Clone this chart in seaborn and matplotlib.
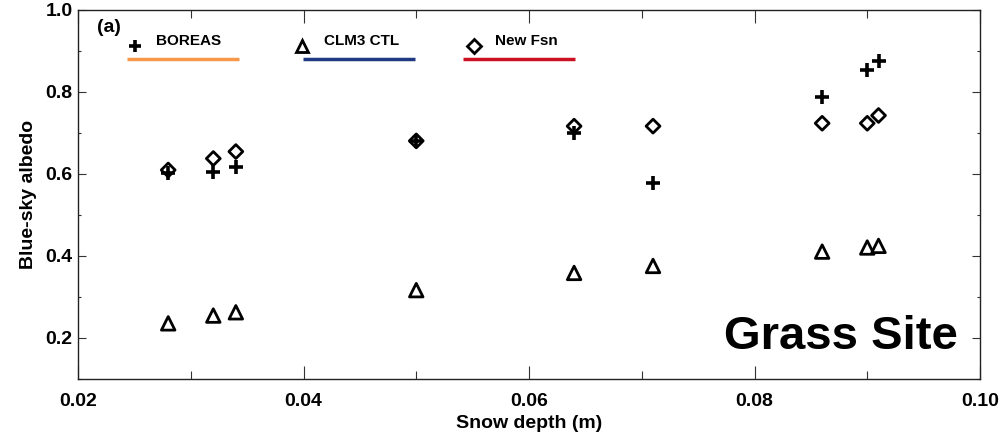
import matplotlib
matplotlib.use("Agg")
import matplotlib.pyplot as plt
import seaborn as sns
import pandas as pd
from matplotlib.ticker import MultipleLocator

# ---- data ----
snow_depth = [0.028, 0.032, 0.034, 0.050, 0.064, 0.071, 0.086, 0.090, 0.091]
boreas = [0.601, 0.605, 0.616, 0.680, 0.699, 0.578, 0.788, 0.853, 0.875]
clm3_ctl = [0.235, 0.254, 0.262, 0.316, 0.358, 0.375, 0.410, 0.420, 0.424]
new_fsn = [0.609, 0.637, 0.654, 0.680, 0.716, 0.716, 0.723, 0.723, 0.742]
series_names = ["BOREAS", "CLM3 CTL", "New Fsn"]
series_colors = ["#F7974A", "#1F3A82", "#CC1122"]
x_ticks = [0.02, 0.04, 0.06, 0.08, 0.10]
y_ticks = [0.2, 0.4, 0.6, 0.8, 1.0]

df = pd.DataFrame({"depth": snow_depth, "BOREAS": boreas,
                   "CLM3 CTL": clm3_ctl, "New Fsn": new_fsn})

sns.set_style("white")
plt.rcParams["font.family"] = ["Liberation Sans", "DejaVu Sans"]
plt.rcParams["text.color"] = "black"
plt.rcParams["axes.labelcolor"] = "black"
plt.rcParams["xtick.color"] = "black"
plt.rcParams["ytick.color"] = "black"

fig = plt.figure(figsize=(10.01, 4.37), dpi=100)
ax = fig.add_axes([78 / 1001, 1 - 378.7 / 437, (980 - 78) / 1001, (378.7 - 9.7) / 437])

# CLM3 CTL triangles
sns.scatterplot(data=df, x="depth", y="CLM3 CTL", marker="^", s=95,
                facecolor="none", edgecolor="black", linewidth=2.0, ax=ax, zorder=3)
# New Fsn diamonds
sns.scatterplot(data=df, x="depth", y="New Fsn", marker="D", s=50,
                facecolor="none", edgecolor="black", linewidth=2.0, ax=ax, zorder=3)
# BOREAS plus
sns.scatterplot(data=df, x="depth", y="BOREAS", marker="+", s=110,
                color="black", linewidth=2.6, ax=ax, zorder=4)

ax.set_xlim(0.02, 0.10)
ax.set_ylim(0.1, 1.0)
ax.set_xticks(x_ticks)
ax.set_xticklabels([f"{v:.2f}" for v in x_ticks])
ax.set_yticks(y_ticks)
ax.set_yticklabels([f"{v:.1f}" for v in y_ticks])
ax.xaxis.set_minor_locator(MultipleLocator(0.01))
ax.yaxis.set_minor_locator(MultipleLocator(0.1))

ax.tick_params(axis="x", which="major", direction="in", length=9.4, width=0.8,
               top=True, bottom=True, labelsize=14, pad=10, color="#333333")
ax.tick_params(axis="x", which="minor", direction="in", length=5.5, width=0.8,
               top=True, bottom=True, color="#333333")
ax.tick_params(axis="y", which="major", direction="in", length=5.5, width=0.8,
               left=True, right=True, labelsize=14, pad=4, color="#333333")
ax.tick_params(axis="y", which="minor", direction="in", length=2.5, width=0.8,
               left=True, right=True, color="#333333")
for lab in ax.get_xticklabels() + ax.get_yticklabels():
    lab.set_fontweight("bold")
    lab.set_color("black")

for sp in ax.spines.values():
    sp.set_color("#222222")
    sp.set_linewidth(1.0)

ax.set_xlabel("Snow depth (m)", fontsize=14, fontweight="bold", labelpad=4)
ax.set_ylabel("Blue-sky albedo", fontsize=14, fontweight="bold", labelpad=6)

# ---- legend drawn in axes coords ----
def px2ax(px, py):
    return ((px - 78) / (980 - 78), (378.7 - py) / (378.7 - 9.7))

ax.text(*px2ax(97, 28), "(a)", transform=ax.transAxes, fontsize=14,
        fontweight="bold", va="center", ha="left")

leg_markers = ["+", "^", "D"]
leg_marker_x = [135, 302, 474]
leg_text_x = [156, 324, 495]
leg_line = [(127, 239), (303, 415), (463, 575)]
for name, col, mk, mx, tx, (l0, l1) in zip(series_names, series_colors, leg_markers,
                                          leg_marker_x, leg_text_x, leg_line):
    x0, y0 = px2ax(mx, 46)
    if mk == "+":
        ax.plot([x0], [y0], marker="+", ms=9, mew=2.6, color="black",
                transform=ax.transAxes, clip_on=False)
    else:
        ax.plot([x0], [y0], marker=mk, ms=9 if mk == "^" else 7, mew=2.0,
                mfc="none", mec="black", transform=ax.transAxes, clip_on=False)
    tx0, ty0 = px2ax(tx, 41)
    ax.text(tx0, ty0, name, transform=ax.transAxes, fontsize=11,
            fontweight="bold", va="center", ha="left")
    a0, yl = px2ax(l0, 59)
    a1, _ = px2ax(l1, 59)
    ax.plot([a0, a1], [yl, yl], color=col, lw=2.5, transform=ax.transAxes,
            solid_capstyle="butt")

gx, gy = px2ax(958, 349)
ax.text(gx, gy, "Grass Site", transform=ax.transAxes, fontsize=34,
        fontweight="bold", ha="right", va="baseline", color="black")

fig.savefig("out.png", dpi=100)
